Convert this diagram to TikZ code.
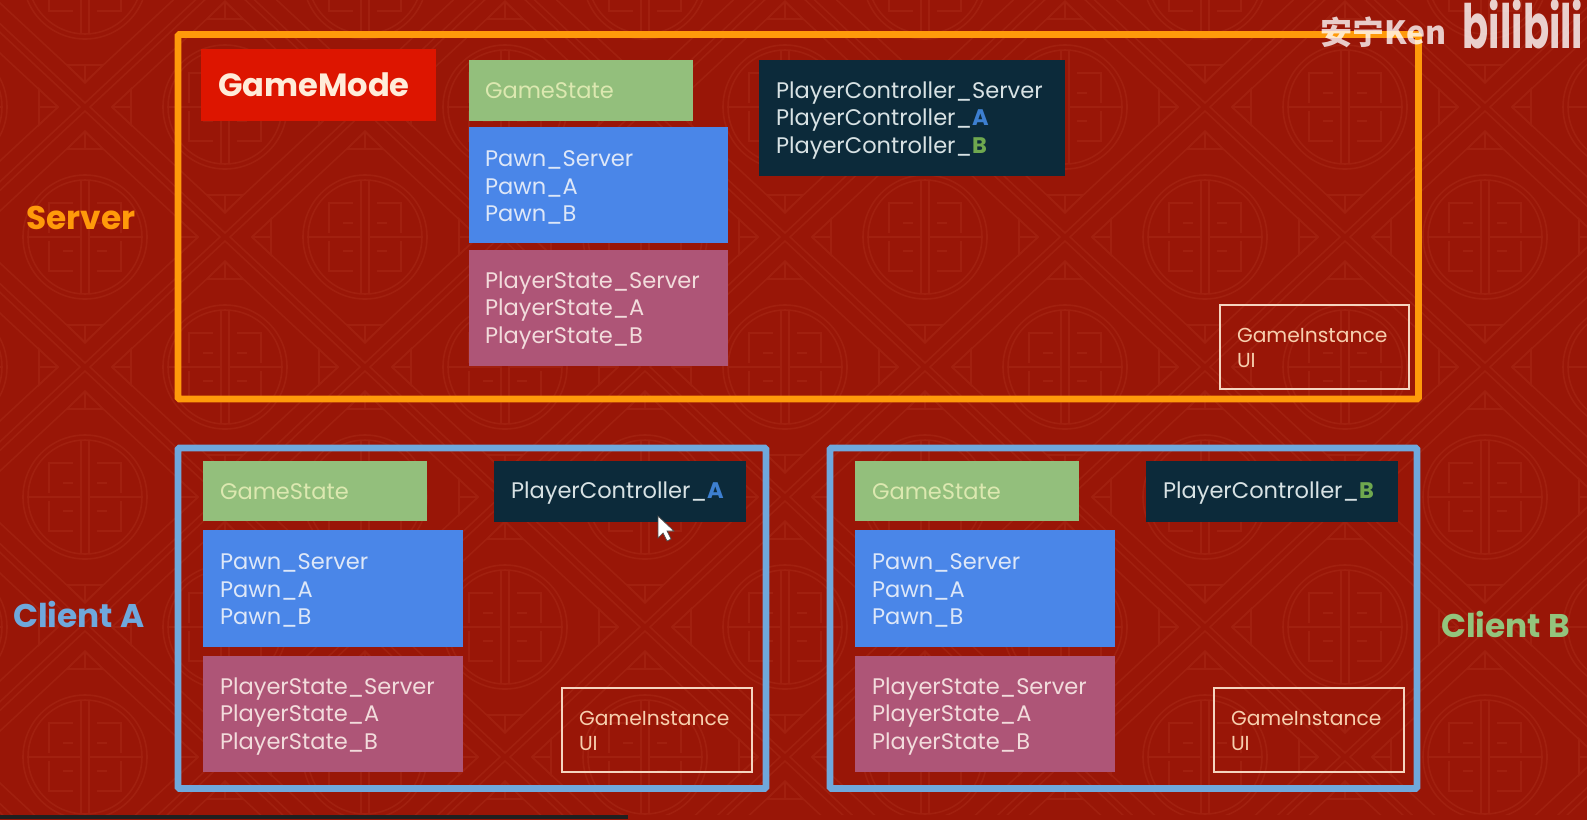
\documentclass[tikz,border=0pt]{standalone}
\usepackage{fontspec}
\setmainfont{Poppins}
\newfontfamily\cjkwm{Noto Sans CJK SC}
\definecolor{bgred}{HTML}{991607}
\definecolor{patred}{HTML}{A1200F}
\definecolor{orangeframe}{HTML}{FF9A0A}
\definecolor{blueframe}{HTML}{6FA8DC}
\definecolor{gmred}{HTML}{DD1500}
\definecolor{gsgreen}{HTML}{93BF7C}
\definecolor{pawnblue}{HTML}{4A86E8}
\definecolor{psrose}{HTML}{AE5577}
\definecolor{pcdark}{HTML}{0C2A3A}
\definecolor{labgreen}{HTML}{93C47D}
\definecolor{txtblue}{HTML}{3D7FD0}
\definecolor{txtgreen}{HTML}{6FA84F}
\definecolor{gstext}{HTML}{DCE8B0}
\definecolor{pawntext}{HTML}{DDE7F8}
\definecolor{pstext}{HTML}{F2DCDC}
\definecolor{pctext}{HTML}{D8E2E4}
\definecolor{gitext}{HTML}{F7CFAE}
\definecolor{giline}{HTML}{F5D5C0}
\tikzset{
  x=0.75pt,y=-0.75pt,
  boxbase/.style={rectangle,inner sep=0pt,outer sep=0pt,align=left,font=\fontsize{16.9}{20.6}\selectfont},
  gmbox/.style={boxbase,fill=gmred,text=white!85!orange,font=\fontsize{24.1}{28}\bfseries\selectfont},
  gsbox/.style={boxbase,fill=gsgreen,text=gstext},
  pawnbox/.style={boxbase,fill=pawnblue,text=pawntext},
  psbox/.style={boxbase,fill=psrose,text=pstext},
  pcbox/.style={boxbase,fill=pcdark,text=pctext},
  gibox/.style={boxbase,draw=giline,line width=0.9pt,text=gitext,font=\fontsize{15.2}{19}\selectfont},
  frameserver/.style={rectangle,inner sep=0pt,outer sep=0pt,draw=orangeframe,line width=5pt,rounded corners=1pt},
  frameclient/.style={rectangle,inner sep=0pt,outer sep=0pt,draw=blueframe,line width=5pt,rounded corners=1pt},
  sidelabel/.style={inner sep=0pt,font=\fontsize{24.6}{28}\bfseries\selectfont},
  patline/.style={draw=patred,line width=1.2pt},
}
% name, x1, y1, x2, y2, style, left pad, vertical nudge, text
\newcommand{\bx}[9]{%
  \pgfmathsetmacro{\bw}{(#4-#2)*0.75}%
  \pgfmathsetmacro{\bh}{(#5-#3)*0.75}%
  \pgfmathsetmacro{\tw}{\bw-#7*0.75}%
  \node[#6,minimum width=\bw pt,minimum height=\bh pt] (#1) at ({(#2+#4)/2},{(#3+#5)/2}) {};%
  \node[#6,fill=none,draw=none,text width=\tw pt,anchor=west] (#1t) at ({#2+#7},{(#3+#5)/2+#8}) {#9};%
}
\newcommand{\fr}[6]{%
  \pgfmathsetmacro{\bw}{(#4-#2)*0.75}%
  \pgfmathsetmacro{\bh}{(#5-#3)*0.75}%
  \node[#6,minimum width=\bw pt,minimum height=\bh pt] (#1) at ({(#2+#4)/2},{(#3+#5)/2}) {};%
}
\newcommand{\motif}[2]{%
  \begin{scope}[shift={(#1,#2)}]
    \draw[patline] (0,0) circle[radius=62*0.75pt];
    \draw[patline] (0,0) circle[radius=57*0.75pt];
    \draw[patline] (-4,-57) -- (-4,57) (4,-57) -- (4,57);
    \draw[patline] (-57,0) -- (-4,0) (4,0) -- (57,0);
    \draw[patline] (-36,-4) -- (-36,-34) -- (-12,-34) (36,-4) -- (36,-34) -- (12,-34);
    \draw[patline] (-36,4) -- (-36,34) -- (-12,34) (36,4) -- (36,34) -- (12,34);
    \draw[patline] (-22,-14) -- (-12,-14) (22,-14) -- (12,-14) (-22,14) -- (-12,14) (22,14) -- (12,14);
    \draw[patline] (0,-126) -- (135,0) -- (0,126) -- (-135,0) -- cycle;
    \draw[patline] (0,-105) -- (113,0) -- (0,105) -- (-113,0) -- cycle;
    \draw[patline] (-18,-88) -- (0,-106) -- (18,-88) -- cycle (0,-106) -- (0,-88);
    \draw[patline] (-18,88) -- (0,106) -- (18,88) -- cycle (0,106) -- (0,88);
    \draw[patline] (-94,-18) -- (-113,0) -- (-94,18) -- cycle (-113,0) -- (-94,0);
    \draw[patline] (94,-18) -- (113,0) -- (94,18) -- cycle (113,0) -- (94,0);
  \end{scope}}
\begin{document}
\begin{tikzpicture}
\useasboundingbox (0,0) rectangle (1587,819);
\fill[bgred] (0,-2) rectangle (1589,821);
\begin{scope}
  \clip (0,0) rectangle (1587,814);
  \foreach \r in {-1,...,6}{
    \foreach \c in {-1,...,6}{
      \pgfmathsetmacro{\mx}{(iseven(\r) ? 225 : 85)+280*\c}
      \pgfmathsetmacro{\my}{107+130*\r}
      \motif{\mx}{\my}
    }
  }
\end{scope}
% progress bar
\fill[black!75!gray] (0,815) rectangle (628,819);

% Frames
\fr{serverframe}{178}{34.5}{1418.5}{399}{frameserver}
\fr{clientaframe}{178}{448}{766}{788.5}{frameclient}
\fr{clientbframe}{830}{448}{1417}{788.5}{frameclient}

% Side labels
\node[sidelabel,text=orangeframe,anchor=west] (serverlabel) at (26,218) {Server};
\node[sidelabel,text=blueframe,anchor=west] (clientalabel) at (13,614) {Client A};
\node[sidelabel,text=labgreen,anchor=west] (clientblabel) at (1441,624) {Client B};

% Server
\bx{gamemode}{201}{49}{436}{121}{gmbox}{17}{0}{GameMode}
\bx{sgs}{469}{60}{693}{121}{gsbox}{16}{0}{GameState}
\bx{spawn}{469}{127}{728}{243}{pawnbox}{16}{2.5}{Pawn\_Server\\Pawn\_A\\Pawn\_B}
\bx{sps}{469}{250}{728}{366}{psbox}{16}{2.5}{PlayerState\_Server\\PlayerState\_A\\PlayerState\_B}
\bx{spc}{759}{60}{1065}{176}{pcbox}{17}{2.5}{PlayerController\_Server\\PlayerController\_{\bfseries\color{txtblue}A}\\PlayerController\_{\bfseries\color{txtgreen}B}}
\bx{sgi}{1220}{305}{1409}{389}{gibox}{17}{1}{GameInstance\\UI}

% Client A
\bx{ags}{203}{461}{427}{521}{gsbox}{17}{1}{GameState}
\bx{apawn}{203}{530}{463}{647}{pawnbox}{17}{2}{Pawn\_Server\\Pawn\_A\\Pawn\_B}
\bx{aps}{203}{656}{463}{772}{psbox}{17}{2.5}{PlayerState\_Server\\PlayerState\_A\\PlayerState\_B}
\bx{apc}{494}{461}{746}{522}{pcbox}{17}{2}{PlayerController\_{\bfseries\color{txtblue}A}}
\bx{agi}{562}{688}{752}{772}{gibox}{17}{1}{GameInstance\\UI}

% Client B
\bx{bgs}{855}{461}{1079}{521}{gsbox}{17}{1}{GameState}
\bx{bpawn}{855}{530}{1115}{647}{pawnbox}{17}{2}{Pawn\_Server\\Pawn\_A\\Pawn\_B}
\bx{bps}{855}{656}{1115}{772}{psbox}{17}{2.5}{PlayerState\_Server\\PlayerState\_A\\PlayerState\_B}
\bx{bpc}{1146}{461}{1398}{522}{pcbox}{17}{2}{PlayerController\_{\bfseries\color{txtgreen}B}}
\bx{bgi}{1214}{688}{1404}{772}{gibox}{17}{1}{GameInstance\\UI}

% Cursor
\draw[fill=white,draw=black!70,line width=0.5pt]
  (658,516) -- (658,538) -- (663,533) -- (667,541) -- (671,539) -- (667,531) -- (674,531) -- cycle;

% Watermark
\node[anchor=west,inner sep=0pt,text=white,opacity=0.78,font=\fontsize{24}{28}\cjkwm\bfseries\selectfont] (wmname) at (1320,32) {安宁Ken};
\node[inner sep=0pt,text=white,opacity=0.8,font=\fontsize{34}{36}\bfseries\selectfont] (wmlogo) at (1523,24) {\scalebox{0.85}[1.35]{bilibili}};
\end{tikzpicture}
\end{document}
